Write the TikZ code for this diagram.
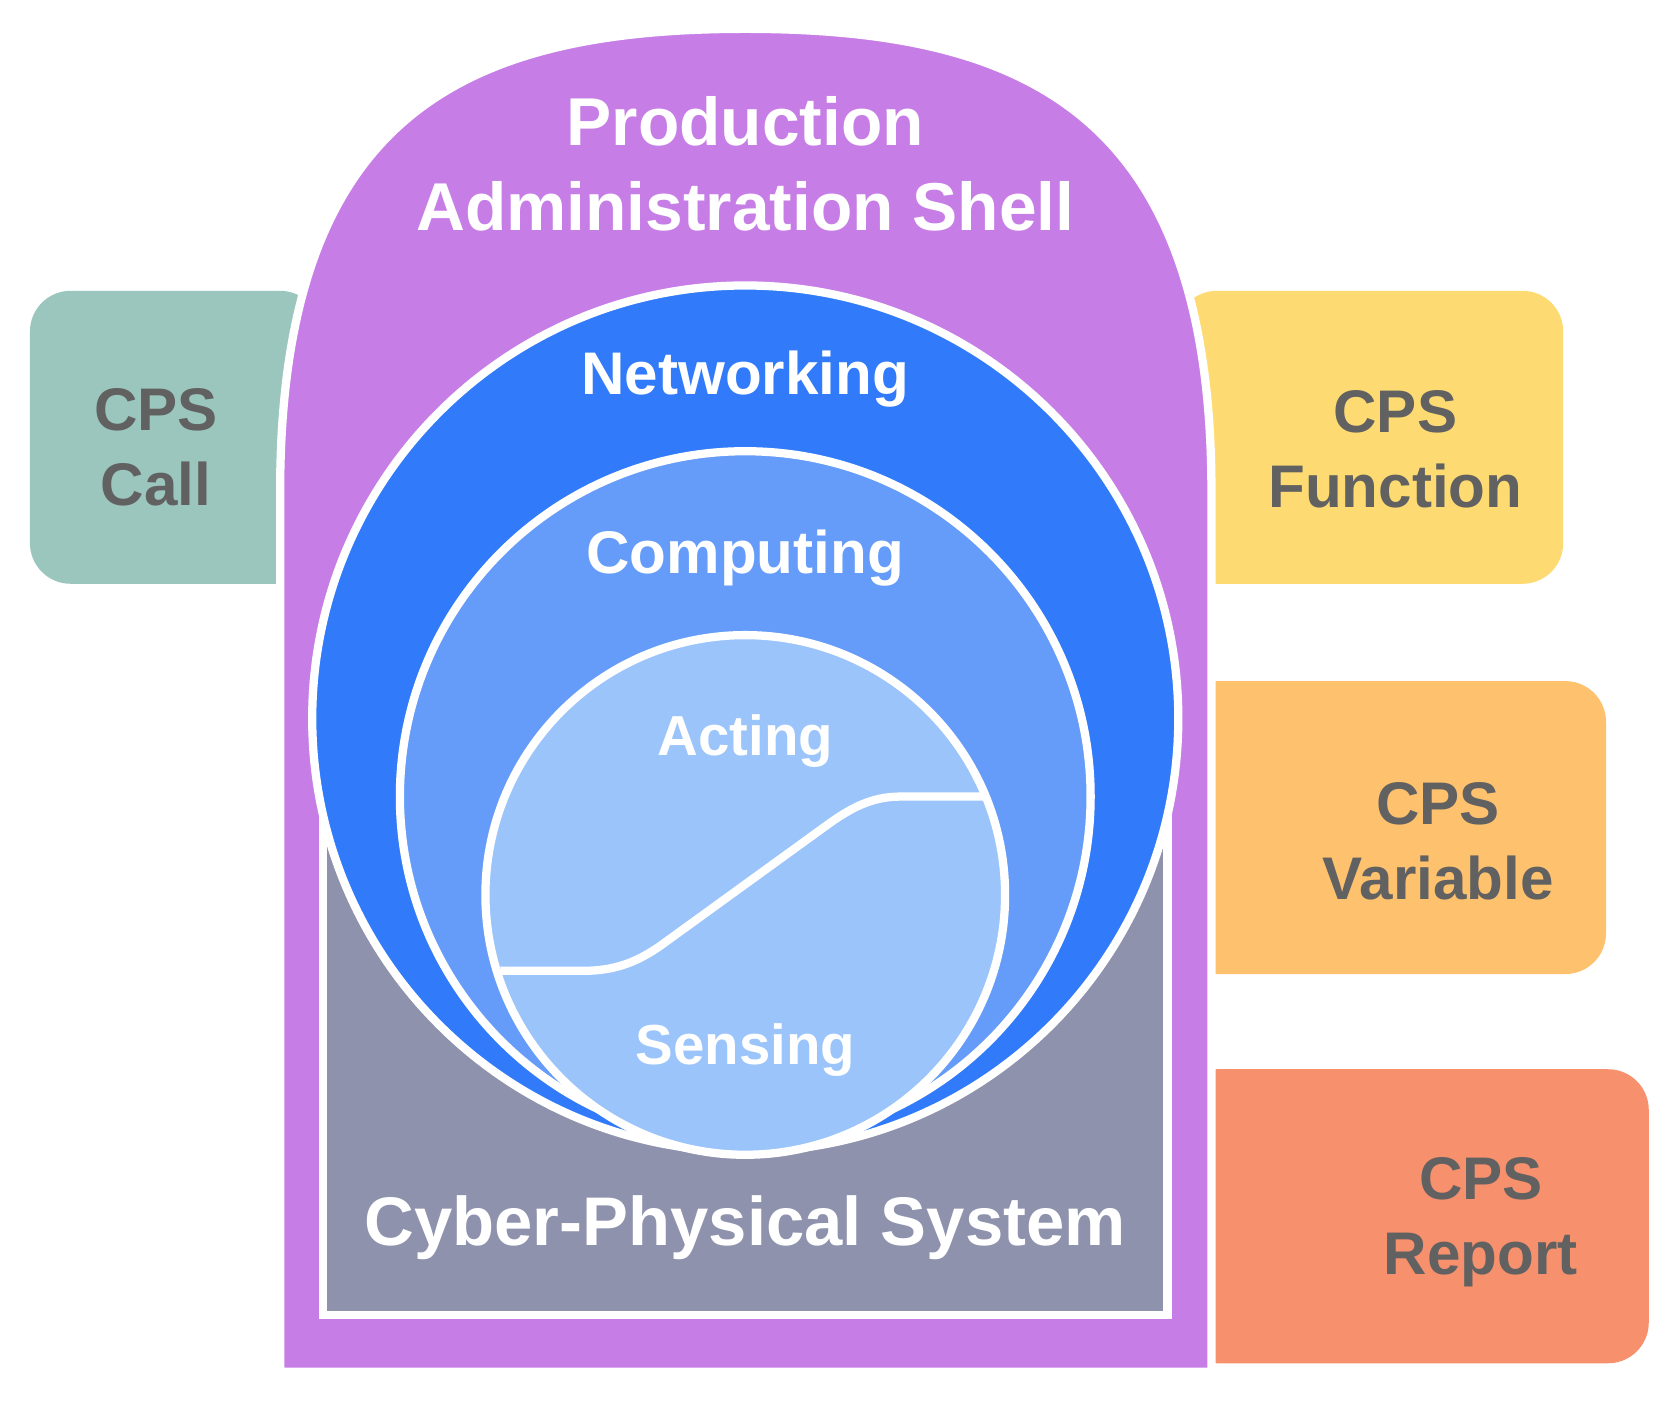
\documentclass[tikz,border=0pt]{standalone}
\usepackage{fontspec}
\setmainfont{Liberation Sans}
\begin{document}
\begin{tikzpicture}[x=0.01cm,y=-0.01cm,
  wl/.style={draw=white,line width=2.2pt},
  side/.style={rounded corners=0.38cm},
  st/.style={text=black!62,font=\bfseries\fontsize{16}{20}\selectfont,align=center},
  wt/.style={text=white,font=\bfseries\fontsize{16}{19}\selectfont,align=center}]
\useasboundingbox (0,0) rectangle (1560,1310);
\definecolor{pur}{HTML}{C77DE6}
\fill[side,fill={rgb,255:red,155;green,198;blue,189}] (300,272) -- (28,272) -- (28,546) -- (300,546) -- cycle;
\fill[side,fill={rgb,255:red,254;green,219;blue,114}] (1100,272) -- (1462,272) -- (1462,546) -- (1100,546) -- cycle;
\fill[side,fill={rgb,255:red,254;green,193;blue,110}] (1100,637) -- (1502,637) -- (1502,911) -- (1100,911) -- cycle;
\fill[side,fill={rgb,255:red,247;green,144;blue,108}] (1100,1000) -- (1542,1000) -- (1542,1275) -- (1100,1275) -- cycle;
\path[fill=pur,wl] (262,1283) -- (262,460) .. controls (262,110) and (430,27) .. (697,27) .. controls (965,27) and (1133,110) .. (1133,460) -- (1133,1283) -- cycle;
\node[wt,font=\bfseries\fontsize{18}{22.5}\selectfont] (pas) at (697,153) {Production\\Administration Shell};
\path[fill={rgb,255:red,142;green,146;blue,173},wl] (302,750) rectangle (1092,1230);
\node[wt,font=\bfseries\fontsize{18.3}{22}\selectfont] (cps) at (697,1148) {Cyber-Physical System};
\path[fill={rgb,255:red,49;green,123;blue,250},wl] (697,672) circle (405);
\node[wt] (net) at (697,355) {Networking};
\path[fill={rgb,255:red,101;green,156;blue,249},wl] (697,745) circle (323);
\node[wt] (com) at (697,522) {Computing};
\path[fill={rgb,255:red,155;green,196;blue,251},wl] (697,837) circle (243);
\draw[wl] (468,908) -- (545,908) .. controls (575,908) and (595,900) .. (617,885) -- (773,772) .. controls (795,756) and (815,745) .. (842,745) -- (920,745);
\node[wt,font=\bfseries\fontsize{15}{18}\selectfont] (act) at (697,693) {Acting};
\node[wt,font=\bfseries\fontsize{15}{18}\selectfont] (sen) at (697,982) {Sensing};
\node[st] (call) at (146,418) {CPS\\Call};
\node[st] (fun) at (1305,420) {CPS\\Function};
\node[st] (var) at (1345,787) {CPS\\Variable};
\node[st] (rep) at (1385,1143) {CPS\\Report};
\end{tikzpicture}
\end{document}
